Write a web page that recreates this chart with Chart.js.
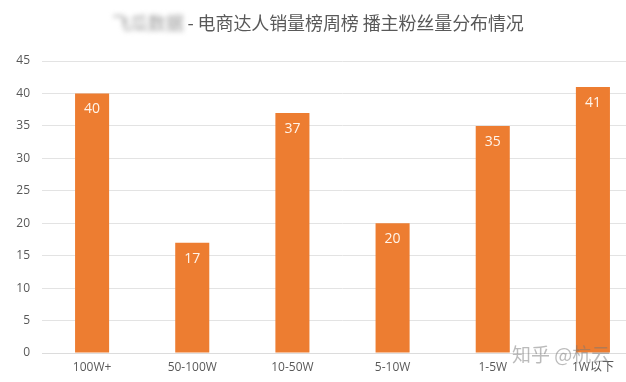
<!DOCTYPE html>
<html>
<head>
<meta charset="utf-8">
<script src="https://cdn.jsdelivr.net/npm/chart.js@4.4.0/dist/chart.umd.min.js"></script>
<style>
html,body{margin:0;padding:0;background:#fff;overflow:hidden;width:626px;height:382px;}
#wrap{position:relative;width:660px;height:382px;}
#title{position:absolute;left:112px;top:9px;font-family:"Noto Sans CJK SC","Noto Sans",sans-serif;font-size:18px;color:#595959;white-space:nowrap;letter-spacing:-0.1px;}
#title .blur{filter:blur(2.5px);color:#9a9a9a;}
#wm{position:absolute;left:512px;top:340px;font-family:"Noto Sans CJK SC",sans-serif;font-size:19px;color:rgba(120,120,120,0.5);white-space:nowrap;}
</style>
</head>
<body>
<div id="wrap">
<canvas id="c" width="660" height="382"></canvas>
<div id="title"><span class="blur">飞瓜数据</span> - 电商达人销量榜周榜 播主粉丝量分布情况</div>
<div id="wm">知乎 @杭云</div>
</div>
<script>
const categories = ["100W+", "50-100W", "10-50W", "5-10W", "1-5W", "1W以下"];
const fanCounts = [40, 17, 37, 20, 35, 41];
const yTicks = [0, 5, 10, 15, 20, 25, 30, 35, 40, 45];

const valueLabels = {
  id: 'valueLabels',
  afterDatasetsDraw(chart) {
    const ctx = chart.ctx;
    const meta = chart.getDatasetMeta(0);
    ctx.save();
    ctx.font = '500 14px "Open Sans","Noto Sans",sans-serif';
    ctx.fillStyle = '#fff4ea';
    ctx.textAlign = 'center';
    ctx.textBaseline = 'middle';
    meta.data.forEach((bar, i) => {
      ctx.fillText(String(chart.data.datasets[0].data[i]), bar.x, bar.y + 16);
    });
    ctx.restore();
  }
};

new Chart(document.getElementById('c'), {
  type: 'bar',
  data: {
    labels: categories,
    datasets: [{
      data: fanCounts,
      backgroundColor: '#ED7D31',
      borderWidth: 0,
      barPercentage: 0.34,
      categoryPercentage: 1.0
    }]
  },
  options: {
    responsive: false,
    animation: false,
    devicePixelRatio: 1,
    layout: { padding: { top: 61, right: 17, left: 0, bottom: 0 } },
    plugins: { legend: { display: false }, tooltip: { enabled: false }, title: { display: false } },
    scales: {
      x: {
        grid: { display: false, drawTicks: false },
        border: { display: true, color: '#dcdcdc', width: 1 },
        ticks: { color: '#595959', font: { size: 12, family: '"Open Sans","Noto Sans CJK SC",sans-serif' }, padding: 7, maxRotation: 0 },
        afterFit(s) { s.height = 29; }
      },
      y: {
        min: 0, max: 45,
        afterBuildTicks(s) { s.ticks = yTicks.map(v => ({ value: v })); },
        grid: { color: '#e3e3e3', drawTicks: false },
        border: { display: false },
        ticks: { color: '#595959', font: { size: 12, family: '"Open Sans","Noto Sans",sans-serif' }, padding: 12 },
        afterFit(s) { s.width = 42; }
      }
    }
  },
  plugins: [valueLabels]
});
</script>
</body>
</html>
